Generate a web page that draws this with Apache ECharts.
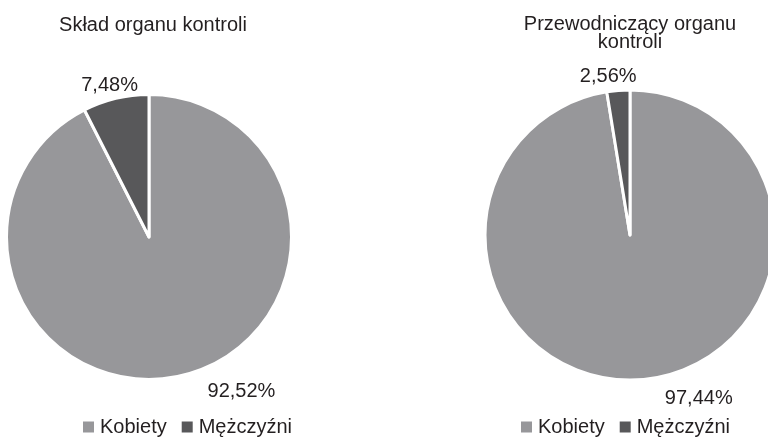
<!DOCTYPE html>
<html>
<head>
<meta charset="utf-8">
<script src="https://cdn.jsdelivr.net/npm/echarts@6/dist/echarts.min.js"></script>
<style>
html,body{margin:0;padding:0;background:#fff;}
#main{width:768px;height:441px;}
</style>
</head>
<body>
<div id="main"></div>
<script>
const categories = ['Kobiety', 'Mężczyźni'];
const compositionValues = [92.52, 7.48];
const chairValues = [97.44, 2.56];
const titles = ['Skład organu kontroli', 'Przewodniczący organu\nkontroli'];

const colors = ['#97979a', '#58585a'];
const textColor = '#231f20';
const fontFamily = '"Liberation Sans", Arial, sans-serif';

function fmt(v) { return v.toFixed(2).replace('.', ',') + '%'; }

function buildData(values, offsets) {
  return categories.map((name, i) => ({
    name: name,
    value: values[i],
    label: { offset: offsets[i] }
  }));
}

function pieSeries(values, center, radius, offsets) {
  return {
    type: 'pie',
    center: center,
    radius: radius,
    startAngle: 90,
    clockwise: true,
    avoidLabelOverlap: false,
    itemStyle: { borderColor: '#ffffff', borderWidth: 3 },
    emphasis: { disabled: true },
    label: {
      show: true,
      position: 'outside',
      formatter: p => fmt(p.value),
      color: textColor,
      fontSize: 20,
      fontFamily: fontFamily
    },
    labelLine: { show: false, length: 14, length2: 0 },
    labelLayout: { align: 'center', verticalAlign: 'middle' },
    data: buildData(values, offsets)
  };
}

const chart = echarts.init(document.getElementById('main'), null, { renderer: 'canvas' });
const legendBase = {
  data: categories,
  icon: 'rect',
  itemWidth: 13,
  itemHeight: 13,
  itemGap: 13,
  padding: 0,
  top: 417,
  textStyle: { color: textColor, fontSize: 20, fontFamily: fontFamily, lineHeight: 20 },
  selectedMode: false
};
chart.setOption({
  animation: false,
  color: colors,
  title: [
    {
      text: titles[0], left: 148, top: 10, textAlign: 'center',
      textStyle: { color: textColor, fontSize: 20, fontWeight: 'normal', fontFamily: fontFamily, lineHeight: 20 }
    },
    {
      text: titles[1], left: 625, top: 10, textAlign: 'center',
      textStyle: { color: textColor, fontSize: 20, fontWeight: 'normal', fontFamily: fontFamily, lineHeight: 18 }
    }
  ],
  legend: [
    Object.assign({}, legendBase, { left: 81 }),
    Object.assign({}, legendBase, { left: 519 })
  ],
  series: [
    pieSeries(compositionValues, [149, 237], 142.5, [[51, 2], [2, 1]]),
    pieSeries(chairValues, [630, 235], 145, [[51, 5], [-4, 0]])
  ]
});
</script>
</body>
</html>
